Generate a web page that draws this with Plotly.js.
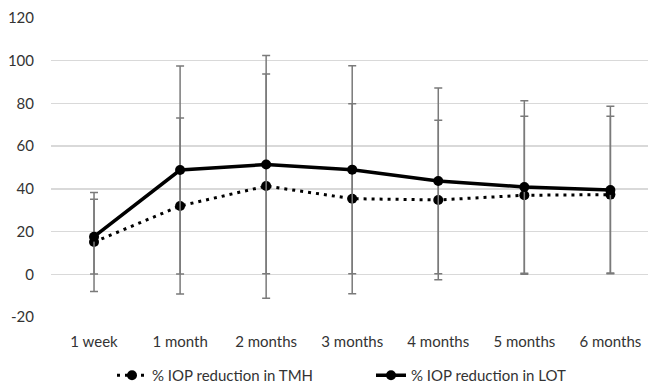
<!DOCTYPE html>
<html>
<head>
<meta charset="utf-8">
<script src="https://cdn.plot.ly/plotly-3.0.1.min.js"></script>
<style>html,body{margin:0;padding:0;background:#fff;overflow:hidden;}#chart{width:648px;height:392px;}</style>
</head>
<body>
<div id="chart"></div>
<script>
var categories = ["1 week", "1 month", "2 months", "3 months", "4 months", "5 months", "6 months"];
var tmhValues = [15.1, 32.0, 41.3, 35.4, 34.8, 37.0, 37.3];
var tmhErrors = [23.2, 41.2, 52.5, 44.5, 37.3, 37.0, 36.7];
var lotValues = [17.6, 48.8, 51.4, 49.0, 43.7, 40.9, 39.5];
var lotErrors = [17.5, 48.7, 51.1, 48.7, 43.5, 40.4, 39.2];
var yTicks = [-20, 0, 20, 40, 60, 80, 100, 120];

var errStyle = function(arr){
  return {type: 'data', array: arr, visible: true, color: '#7a7a7a', thickness: 1.5, width: 4};
};

var traces = [
  {
    name: '% IOP reduction in TMH',
    x: categories, y: tmhValues, type: 'scatter', mode: 'lines+markers',
    line: {color: '#000', width: 3, dash: '3px,5px'},
    marker: {color: '#000', size: 10},
    error_y: errStyle(tmhErrors)
  },
  {
    name: '% IOP reduction in LOT',
    x: categories, y: lotValues, type: 'scatter', mode: 'lines+markers',
    line: {color: '#000', width: 3.5},
    marker: {color: '#000', size: 10},
    error_y: errStyle(lotErrors)
  }
];

var font = {family: 'Lato, "Open Sans", sans-serif', size: 15, color: '#333'};

var layout = {
  width: 648, height: 392,
  margin: {l: 51, r: 0, t: 18, b: 75, pad: 0},
  paper_bgcolor: '#fff', plot_bgcolor: '#fff',
  font: font,
  showlegend: true,
  legend: {
    orientation: 'h', xref: 'container', yref: 'container',
    x: 112 / 648, xanchor: 'left', y: 0, yanchor: 'bottom',
    font: font, entrywidth: 214, traceorder: 'normal'
  },
  xaxis: {
    type: 'category', categoryarray: categories,
    range: [-0.5, 6.437], showgrid: false, zeroline: false, showline: false,
    ticks: '', ticklabelstandoff: 14, fixedrange: true, automargin: false
  },
  yaxis: {
    range: [-20, 120], tickvals: yTicks, ticktext: yTicks.map(String),
    showgrid: true, gridcolor: '#d9d9d9', gridwidth: 1.3,
    zeroline: true, zerolinecolor: '#d9d9d9', zerolinewidth: 1.3,
    showline: false, ticks: '', ticklabelstandoff: 16, fixedrange: true, automargin: false
  }
};

Plotly.newPlot('chart', traces, layout, {displayModeBar: false, staticPlot: true});
</script>
</body>
</html>
